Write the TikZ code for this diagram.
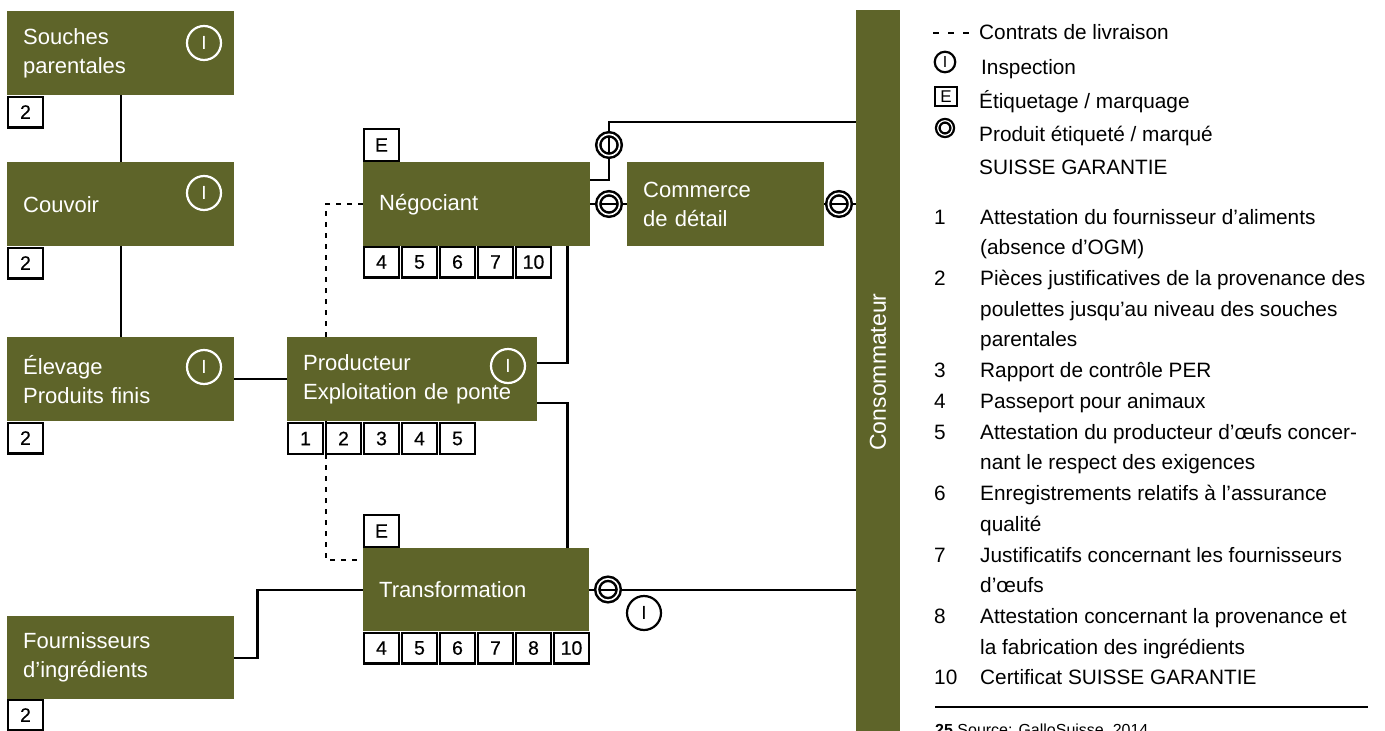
\documentclass[tikz,border=0pt]{standalone}
\usepackage{fontspec}
\setmainfont{Liberation Sans}
\newfontfamily\numfont[FakeBold=0.4]{Liberation Sans}
\usetikzlibrary{backgrounds}
\definecolor{boxgreen}{RGB}{94,100,41}
\begin{document}
\begin{tikzpicture}[x=1pt,y=-1pt,
  stage/.style={fill=boxgreen, text=white, anchor=north west, inner xsep=16pt,
    inner ysep=0pt, align=left, font=\fontsize{22}{29}\selectfont},
  docbox/.style={draw, fill=white, line width=2.4pt, minimum width=34.6pt,
    minimum height=30.6pt, inner sep=0pt, font=\numfont\fontsize{19.5}{19.5}\selectfont},
  insp/.style={circle, draw=white, line width=2.2pt, minimum size=34pt,
    inner sep=0pt, text=white, font=\fontsize{19}{19}\selectfont},
  inspdark/.style={insp, draw=black, text=black},
  ring/.style={circle, draw, line width=2.5pt, double=white,
    double distance=1.6pt, minimum size=21.4pt, inner sep=0pt},
  conn/.style={line width=2.4pt},
  contract/.style={line width=2.4pt, dash pattern=on 5pt off 6pt},
  legend/.style={anchor=base west, font=\fontsize{20.8}{24}\selectfont, inner sep=0pt}]

\useasboundingbox (0,0) rectangle (1385,731);

% ---- stages -------------------------------------------------------
\node[stage, text width=195pt, minimum height=84pt] (souches) at (7,11) {Souches\\parentales};
\node[stage, text width=195pt, minimum height=84pt] (couvoir) at (7,162) {Couvoir};
\node[stage, text width=195pt, minimum height=84pt] (elevage) at (7,337) {Élevage\\Produits finis};
\node[stage, text width=195pt, minimum height=83pt] (fourn) at (7,616) {Fournisseurs\\d’ingrédients};
\node[stage, text width=218pt, minimum height=84pt] (producteur) at (287,337) {Producteur\\Exploitation de ponte};
\node[stage, text width=195pt, minimum height=84pt] (negociant) at (363,162) {Négociant};
\node[stage, text width=165pt, minimum height=84pt] (commerce) at (627,162) {Commerce\\de détail};
\node[stage, text width=194pt, minimum height=83pt] (transf) at (363,548) {Transformation};
\node[fill=boxgreen, anchor=north west, minimum width=44pt, minimum height=730pt, inner sep=0pt] (conso) at (856,10) {};
\node[rotate=90, text=white, font=\fontsize{23}{23}\selectfont] (consolabel) at (878,372) {Consommateur};

% ---- inspection marks ---------------------------------------------
\node[insp] (i1) at (204,43) {I};
\node[insp] (i2) at (204,193) {I};
\node[insp] (i3) at (204,367) {I};
\node[insp] (i4) at (508,366) {I};
\node[inspdark] (i5) at (644,613) {I};

% ---- labelling marks ----------------------------------------------
\node[docbox, minimum height=31.6pt] (eneg) at (381.5,145) {E};
\node[docbox, minimum height=31.6pt] (etra) at (381.5,531) {E};

% ---- documents ----------------------------------------------------
\node[docbox] (d1) at (25.5,112) {2};
\node[docbox] (d2) at (25.5,263) {2};
\node[docbox] (d3) at (25.5,438) {2};
\node[docbox] (d4) at (25.5,715) {2};
\foreach \t [count=\i from 0] in {1,2,3,4,5}
  \node[docbox] (p\i) at (305.5+38*\i,438.5) {\t};
\foreach \t [count=\i from 0] in {4,5,6,7,10}
  \node[docbox] (n\i) at (381.5+38*\i,262) {\t};
\foreach \t [count=\i from 0] in {4,5,6,7,8,10}
  \node[docbox] (t\i) at (381.5+38*\i,648) {\t};

% ---- labelled product marks ---------------------------------------
\node[ring] (ringA) at (609,145) {};
\node[ring] (ringB) at (609,204) {};
\node[ring] (ringC) at (839,204) {};
\node[ring] (ringD) at (608,589.5) {};

% ---- connectors ---------------------------------------------------
\begin{pgfonlayer}{background}
  \draw[conn] (souches) -- (couvoir);
  \draw[conn] (couvoir) -- (elevage);
  \draw[conn] (elevage) -- (producteur);
  \draw[conn] ([yshift=16pt]producteur.east) -| ([xshift=-23pt]negociant.south east);
  \draw[conn] ([yshift=-24pt]producteur.east) -| ([xshift=-22pt]transf.north east);
  \draw[conn] ([yshift=24pt]negociant.east) -| (ringA.center) |- ([yshift=-112pt]conso.north west);
  \draw[conn] (negociant.east) -- (commerce.west);
  \draw[conn] (commerce.east) -- (commerce.east -| conso.west);
  \draw[conn] (transf.east) -- (transf.east -| conso.west);
  \draw[conn] (fourn.east) -- ++(23,0) |- (transf.west);
  \draw[contract] (negociant.west) -| ([xshift=39pt]producteur.north west);
  \draw[contract] ([xshift=39pt]producteur.south west) |- ([yshift=-12pt]transf.north west);
\end{pgfonlayer}

% ---- legend -------------------------------------------------------
\coordinate (dashA) at (933,33);
\coordinate (dashB) at (973,33);
\draw[line width=2.4pt, dash pattern=on 6pt off 9pt] (dashA) -- (dashB);
\node[legend] (lg1) at (979,39) {Contrats de livraison};
\node[circle, draw, line width=2.2pt, minimum size=20.5pt, inner sep=0pt,
  font=\fontsize{16}{16}\selectfont] (lgI) at (945,62) {I};
\node[legend] (lg2) at (981,74) {Inspection};
\node[draw, line width=2.2pt, minimum width=22pt, minimum height=19pt, inner sep=0pt,
  font=\fontsize{17}{17}\selectfont] (lgE) at (946,96.5) {E};
\node[legend] (lg3) at (979,108) {Étiquetage / marquage};
\node[circle, draw, line width=2.3pt, double=white, double distance=1.2pt,
  minimum size=14.5pt, inner sep=0pt] (lgR) at (945,128) {};
\node[legend] (lg4) at (979,141) {Produit étiqueté / marqué};
\node[legend] (lg5) at (979,174) {SUISSE GARANTIE};

\foreach \k/\n in {0/1,2/2,5/3,6/4,7/5,9/6,11/7,13/8,15/10}
  \node[legend] (num\k) at (934,224+30.73*\k) {\n};
\foreach \k/\t in {0/{Attestation du fournisseur d’aliments},
                   1/{(absence d’OGM)},
                   2/{Pièces justificatives de la provenance des},
                   3/{poulettes jusqu’au niveau des souches},
                   4/{parentales},
                   5/{Rapport de contrôle PER},
                   6/{Passeport pour animaux},
                   7/{Attestation du producteur d’œufs concer-},
                   8/{nant le respect des exigences},
                   9/{Enregistrements relatifs à l’assurance},
                   10/{qualité},
                   11/{Justificatifs concernant les fournisseurs},
                   12/{d’œufs},
                   13/{Attestation concernant la provenance et},
                   14/{la fabrication des ingrédients},
                   15/{Certificat SUISSE GARANTIE}}
  \node[legend] (item\k) at (980,224+30.73*\k) {\t};

\coordinate (ruleA) at (935,707);
\coordinate (ruleB) at (1368,707);
\draw[line width=1.2pt] (ruleA) -- (ruleB);
\node[anchor=base west, inner sep=0pt, font=\fontsize{16}{16}\selectfont] (source) at (935,735)
  {\textbf{25} Source: GalloSuisse, 2014};
\end{tikzpicture}
\end{document}
